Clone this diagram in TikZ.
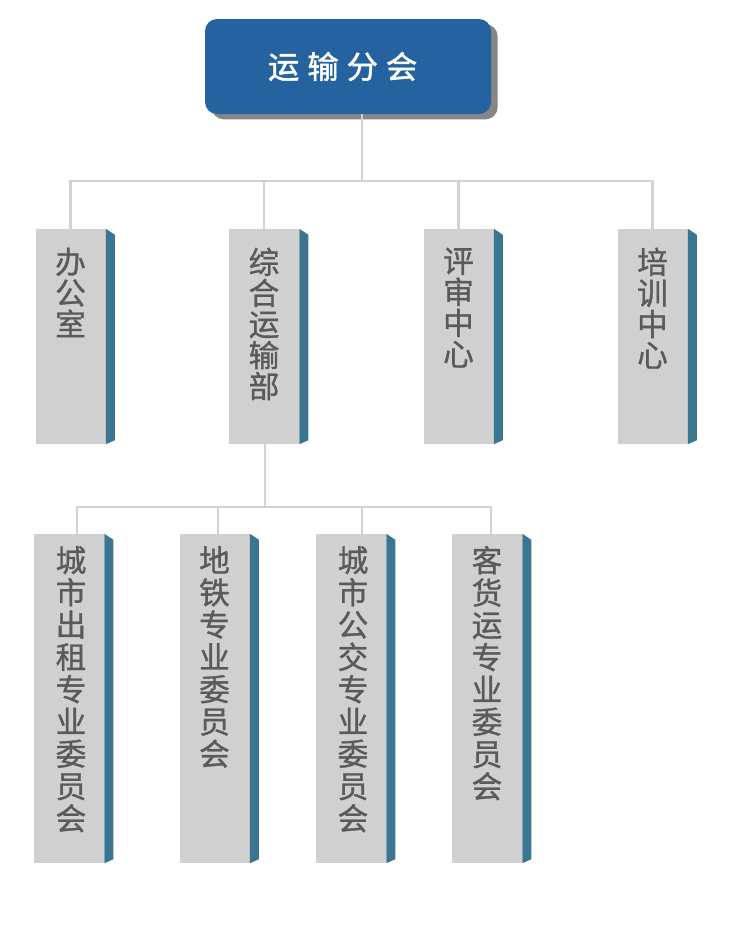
\documentclass[tikz,border=0pt]{standalone}
\usepackage{fontspec}
\newfontfamily\cjk[FakeBold=1]{Noto Sans CJK SC}
\newfontfamily\cjkhead[FakeBold=1.5]{Noto Sans CJK SC}
\usetikzlibrary{shadows}

\definecolor{headblue}{HTML}{2562A0}
\definecolor{boxgray}{HTML}{D0D0D0}
\definecolor{sidebar}{HTML}{3A7690}
\definecolor{linkgray}{HTML}{D2D2D2}
\definecolor{textgray}{HTML}{5A5A5A}

% column of characters, fixed height, text at the top
\newcommand{\colbox}[3]{\parbox[c][#1][t]{52.5pt}{\centering\vspace*{#2}#3}}

\begin{document}
\begin{tikzpicture}[x=0.75pt, y=-0.75pt,
    head/.style={fill=headblue, rounded corners=9pt, minimum width=214.5pt,
      minimum height=71.25pt, text=white, font=\cjkhead\fontsize{23.5}{26}\selectfont,
      drop shadow={shadow xshift=5pt, shadow yshift=-4pt, fill=gray!95, opacity=1}},
    unit/.style={fill=boxgray, inner sep=0pt, text=textgray,
      font=\cjk\fontsize{23}{23.3}\selectfont},
    lowunit/.style={unit, font=\cjk\fontsize{23}{24.2}\selectfont},
    link/.style={draw=linkgray, line width=1.6pt}]
    \useasboundingbox (0,0) rectangle (750,950);

    % head
    \node[head] (top) at (348,66.5) {\hspace*{-8pt}运\hspace{6pt}输\hspace{6pt}分\hspace{6pt}会};

    % departments
    \node[unit] (m1) at (70.5,336.5) {\colbox{161.25pt}{14pt}{办\\公\\室}};
    \node[unit] (m2) at (264,336.5) {\colbox{161.25pt}{14pt}{综\\合\\运\\输\\部}};
    \node[unit] (m3) at (458.5,336.5) {\colbox{161.25pt}{14pt}{评\\审\\中\\心}};
    \node[unit] (m4) at (652.5,336.5) {\colbox{161.25pt}{14pt}{培\\训\\中\\心}};

    % committees
    \node[lowunit] (b1) at (69,698.5) {\colbox{246.75pt}{9pt}{\hspace*{3pt}城\\\hspace*{3pt}市\\\hspace*{3pt}出\\\hspace*{3pt}租\\\hspace*{3pt}专\\\hspace*{3pt}业\\\hspace*{3pt}委\\\hspace*{3pt}员\\\hspace*{3pt}会}};
    \node[lowunit] (b2) at (214.5,698.5) {\colbox{246.75pt}{9pt}{地\\铁\\专\\业\\委\\员\\会}};
    \node[lowunit] (b3) at (351,698.5) {\colbox{246.75pt}{9pt}{\hspace*{3pt}城\\\hspace*{3pt}市\\\hspace*{3pt}公\\\hspace*{3pt}交\\\hspace*{3pt}专\\\hspace*{3pt}业\\\hspace*{3pt}委\\\hspace*{3pt}员\\\hspace*{3pt}会}};
    \node[lowunit] (b4) at (487,698.5) {\colbox{246.75pt}{9pt}{客\\货\\运\\专\\业\\委\\员\\会}};

    \foreach \b in {m1,m2,m3,m4,b1,b2,b3,b4}
      \fill[sidebar] (\b.north east) -- ++(9,6) -- ([shift={(9,-4)}]\b.south east)
        -- (\b.south east) -- cycle;

    % connectors
    \coordinate (tj) at (362,181);
    \coordinate (lj) at (265,507);
    \draw[link] (tj |- top.south) -- (tj);
    \draw[link] (m1.north) |- (tj) -| (m4.north);
    \draw[link] (m2.north) -- (m2.north |- tj);
    \draw[link] (m3.north) -- (m3.north |- tj);
    \draw[link] (lj |- m2.south) -- (lj);
    \draw[link] ([xshift=6pt]b1.north) |- (lj) -| ([xshift=3pt]b4.north);
    \draw[link] ([xshift=2.6pt]b2.north) -- ([xshift=2.6pt]b2.north |- lj);
    \draw[link] ([xshift=8.25pt]b3.north) -- ([xshift=8.25pt]b3.north |- lj);
\end{tikzpicture}
\end{document}
